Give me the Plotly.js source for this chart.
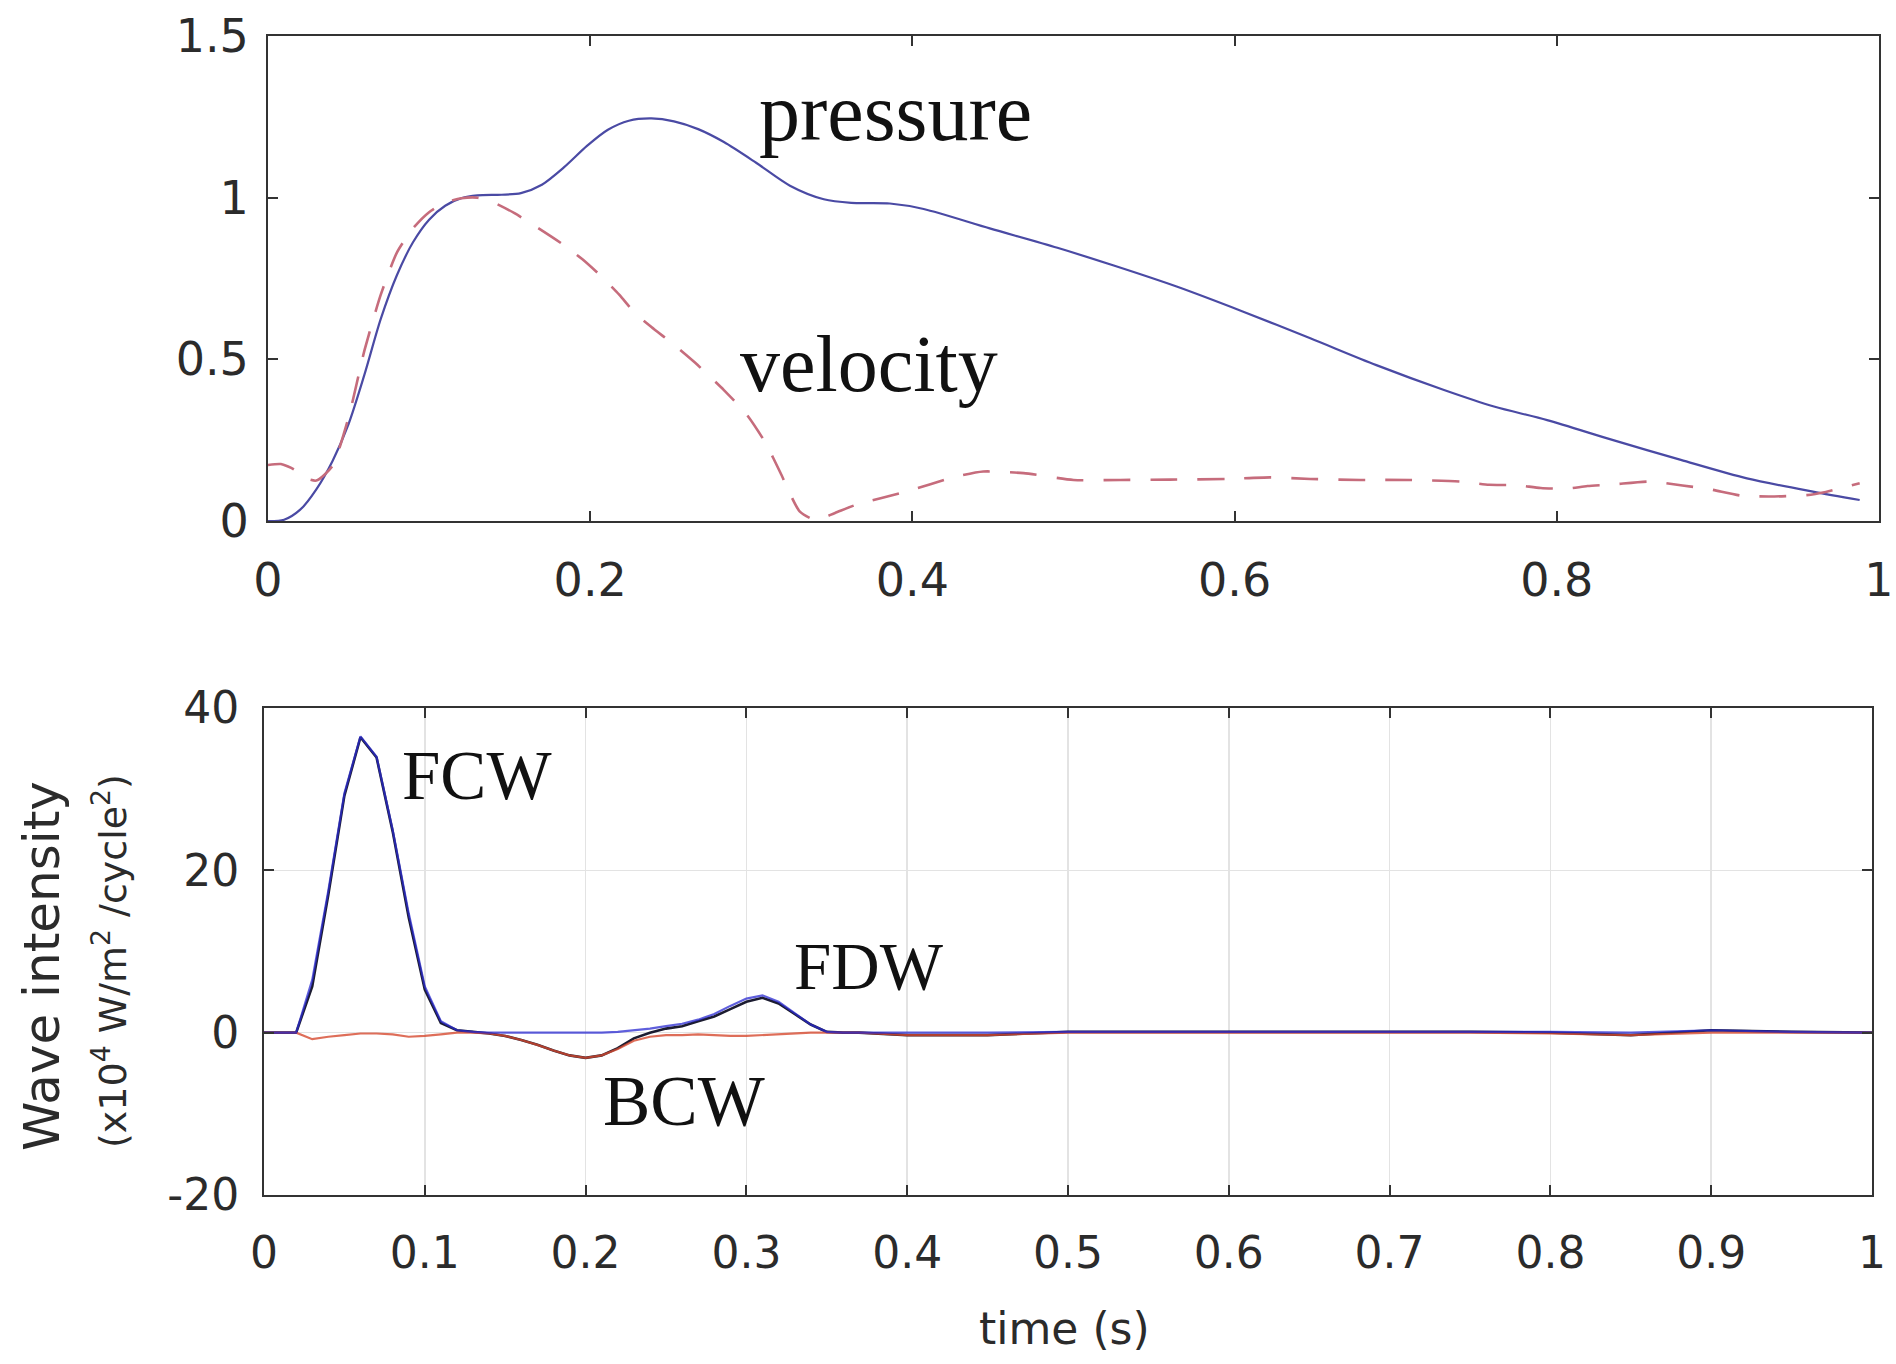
<!DOCTYPE html>
<html>
<head>
<meta charset="utf-8">
<script src="https://cdn.plot.ly/plotly-3.0.1.min.js"></script>
<style>
html,body{margin:0;padding:0;background:#fff;}
#chart{width:1896px;height:1364px;}
</style>
</head>
<body>
<div id="chart"></div>
<script>
// ---- Top panel: normalised pressure and velocity ----
const pressureTime = [0.000,0.010,0.020,0.030,0.040,0.050,0.060,0.070,0.080,0.090,0.100,0.110,0.120,0.130,0.145,0.157,0.170,0.184,0.198,0.211,0.224,0.238,0.252,0.267,0.283,0.303,0.324,0.345,0.362,0.386,0.407,0.448,0.490,0.525,0.564,0.605,0.647,0.688,0.730,0.761,0.794,0.835,0.877,0.918,0.959,0.988];
const pressure = [0.000,0.004,0.035,0.098,0.185,0.300,0.455,0.625,0.760,0.862,0.932,0.975,0.998,1.007,1.009,1.014,1.040,1.095,1.160,1.210,1.238,1.245,1.236,1.212,1.172,1.108,1.037,0.995,0.984,0.982,0.965,0.905,0.845,0.790,0.725,0.648,0.565,0.482,0.405,0.354,0.312,0.250,0.189,0.132,0.091,0.065];

const velocityTime = [0.000,0.008,0.016,0.022,0.030,0.040,0.050,0.060,0.070,0.080,0.090,0.100,0.110,0.120,0.130,0.140,0.153,0.168,0.182,0.195,0.207,0.218,0.228,0.238,0.252,0.265,0.283,0.297,0.309,0.318,0.330,0.340,0.352,0.365,0.396,0.427,0.444,0.469,0.500,0.529,0.560,0.595,0.622,0.647,0.678,0.709,0.740,0.758,0.775,0.790,0.806,0.819,0.835,0.858,0.878,0.895,0.915,0.935,0.955,0.967,0.988];
const velocity = [0.173,0.176,0.160,0.135,0.125,0.170,0.320,0.530,0.700,0.830,0.905,0.955,0.985,0.998,1.000,0.985,0.952,0.905,0.859,0.810,0.756,0.700,0.642,0.600,0.545,0.490,0.405,0.330,0.240,0.150,0.030,0.003,0.025,0.050,0.091,0.137,0.153,0.148,0.127,0.127,0.128,0.130,0.135,0.130,0.127,0.127,0.122,0.112,0.111,0.102,0.100,0.108,0.113,0.122,0.110,0.098,0.078,0.076,0.080,0.090,0.117];

const topXTicks = [0,0.2,0.4,0.6,0.8,1];
const topXLabels = ['0','0.2','0.4','0.6','0.8','1'];
const topYTicks = [0,0.5,1,1.5];
const topYLabels = ['0','0.5','1','1.5'];

// ---- Bottom panel: wave intensity (x10^4 W/m^2/cycle^2) ----
const waveTime = [0.00,0.01,0.02,0.03,0.04,0.05,0.06,0.07,0.08,0.09,0.10,0.11,0.12,0.13,0.14,0.15,0.16,0.17,0.18,0.19,0.20,0.21,0.22,0.23,0.24,0.25,0.26,0.27,0.28,0.29,0.30,0.31,0.32,0.33,0.34,0.35,0.36,0.37,0.38,0.39,0.40,0.45,0.50,0.55,0.60,0.65,0.70,0.75,0.80,0.85,0.90,0.95,1.00];
const forwardWI = [0,0,0,6.5,17.5,29.5,36.5,34,25,14.7,5.7,1.4,0.3,0.1,0,0,0,0,0,0,0,0,0.1,0.3,0.5,0.8,1.1,1.6,2.3,3.3,4.2,4.6,3.8,2.4,1.0,0.1,0,0,0,0,0,0,0.1,0.1,0.1,0.1,0.1,0.1,0.1,0,0.3,0.1,0];
const backwardWI = [0,0,0,-0.8,-0.5,-0.3,-0.1,-0.1,-0.2,-0.5,-0.4,-0.2,0,0,-0.1,-0.4,-0.9,-1.5,-2.2,-2.8,-3.1,-2.8,-2.0,-1.0,-0.5,-0.3,-0.3,-0.2,-0.3,-0.4,-0.4,-0.3,-0.2,-0.1,0,0,0,0,-0.1,-0.2,-0.3,-0.3,0,0,0,0,0,0,-0.1,-0.3,0,0,0];
const netWI = [0,0,0,5.7,17,29.2,36.4,33.9,24.8,14.2,5.3,1.2,0.3,0.1,-0.1,-0.4,-0.9,-1.5,-2.2,-2.8,-3.1,-2.8,-1.9,-0.7,0,0.5,0.8,1.4,2.0,2.9,3.8,4.3,3.6,2.3,1.0,0.1,0,0,-0.1,-0.2,-0.3,-0.3,0.1,0.1,0.1,0.1,0.1,0.1,0,-0.3,0.3,0.1,0];

const botXTicks = [0,0.1,0.2,0.3,0.4,0.5,0.6,0.7,0.8,0.9,1];
const botXLabels = ['0','0.1','0.2','0.3','0.4','0.5','0.6','0.7','0.8','0.9','1'];
const botYTicks = [-20,0,20,40];
const botYLabels = ['-20','0','20','40'];

const W = 1896, H = 1364;
const SANS = 'DejaVu Sans, sans-serif';
const SERIF = 'Liberation Serif, Times New Roman, serif';
const TXT = '#2b2b2b';

const traces = [
  {x: pressureTime, y: pressure, xaxis:'x', yaxis:'y', mode:'lines', line:{color:'#4a4aa4', width:2.2, shape:'spline', smoothing:0.8}},
  {x: velocityTime, y: velocity, xaxis:'x', yaxis:'y', mode:'lines', line:{color:'#c66c7c', width:2.6, dash:'27px,20px', shape:'spline', smoothing:0.6}},
  {x: waveTime, y: netWI, xaxis:'x2', yaxis:'y2', mode:'lines', line:{color:'#1c1c30', width:2.6}},
  {x: waveTime, y: backwardWI, xaxis:'x2', yaxis:'y2', mode:'lines', opacity:0.8, line:{color:'#d64a30', width:2.2}},
  {x: waveTime, y: forwardWI, xaxis:'x2', yaxis:'y2', mode:'lines', opacity:0.75, line:{color:'#2a2ad0', width:2.2}}
];

const axBase = {
  showline:true, mirror:'ticks', linecolor:'#333', linewidth:2,
  ticks:'inside', ticklen:10, tickwidth:2, tickcolor:'#333',
  zeroline:false, showgrid:false, fixedrange:true
};

const layout = {
  width:W, height:H,
  margin:{l:0,r:0,t:0,b:0},
  paper_bgcolor:'#fff', plot_bgcolor:'#fff',
  showlegend:false,
  xaxis: Object.assign({}, axBase, {
    domain:[268/W, 1879/W], anchor:'y', range:[0,1],
    tickmode:'array', tickvals:topXTicks, ticktext:topXLabels,
    tickfont:{family:SANS, size:46, color:TXT}, ticklabelstandoff:18
  }),
  yaxis: Object.assign({}, axBase, {
    domain:[1-521/H, 1-36/H], anchor:'x', range:[0,1.5],
    tickmode:'array', tickvals:topYTicks, ticktext:topYLabels,
    tickfont:{family:SANS, size:46, color:TXT}, ticklabelstandoff:8
  }),
  xaxis2: Object.assign({}, axBase, {
    domain:[264/W, 1872/W], anchor:'y2', range:[0,1],
    tickmode:'array', tickvals:botXTicks, ticktext:botXLabels,
    showgrid:true, gridcolor:'#e3e3e3', gridwidth:1.5,
    tickfont:{family:SANS, size:44, color:TXT}, ticklabelstandoff:18
  }),
  yaxis2: Object.assign({}, axBase, {
    domain:[1-1195/H, 1-708/H], anchor:'x2', range:[-20,40],
    tickmode:'array', tickvals:botYTicks, ticktext:botYLabels,
    showgrid:true, gridcolor:'#e3e3e3', gridwidth:1.5,
    tickfont:{family:SANS, size:44, color:TXT}, ticklabelstandoff:14
  }),
  annotations: [
    {xref:'x', yref:'y', x:0.3035, y:1.262, text:'pressure', showarrow:false, xanchor:'left', yanchor:'middle', font:{family:SERIF, size:82, color:'#111'}},
    {xref:'x', yref:'y', x:0.292, y:0.487, text:'velocity', showarrow:false, xanchor:'left', yanchor:'middle', font:{family:SERIF, size:80, color:'#111'}},
    {xref:'x2', yref:'y2', x:0.0846, y:31.6, text:'FCW', showarrow:false, xanchor:'left', yanchor:'middle', font:{family:SERIF, size:69, color:'#111'}},
    {xref:'x2', yref:'y2', x:0.3284, y:8.2, text:'FDW', showarrow:false, xanchor:'left', yanchor:'middle', font:{family:SERIF, size:67, color:'#111'}},
    {xref:'x2', yref:'y2', x:0.2095, y:-8.4, text:'BCW', showarrow:false, xanchor:'left', yanchor:'middle', font:{family:SERIF, size:71, color:'#111'}},
    {xref:'paper', yref:'paper', x:42/W, y:1-966/H, text:'Wave intensity', textangle:-90, showarrow:false, xanchor:'center', yanchor:'middle', font:{family:SANS, size:50, color:TXT}},
    {xref:'paper', yref:'paper', x:110/W, y:1-961/H, text:'(x10<sup>4</sup> W/m<sup>2</sup> /cycle<sup>2</sup>)', textangle:-90, showarrow:false, xanchor:'center', yanchor:'middle', font:{family:SANS, size:38, color:TXT}},
    {xref:'paper', yref:'paper', x:1064/W, y:1-1328/H, text:'time (s)', showarrow:false, xanchor:'center', yanchor:'middle', font:{family:SANS, size:44, color:TXT}}
  ]
};

Plotly.newPlot('chart', traces, layout, {displayModeBar:false, staticPlot:true});
</script>
</body>
</html>
